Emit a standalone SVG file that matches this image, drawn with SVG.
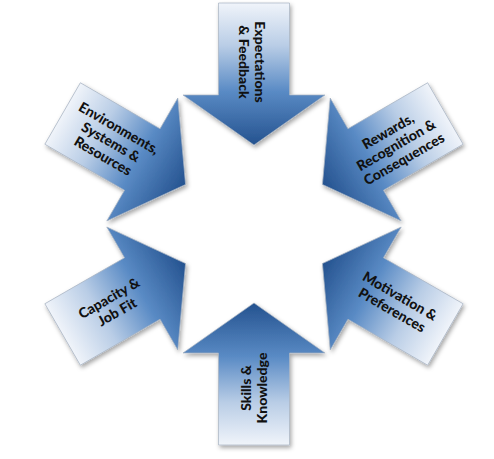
<svg xmlns="http://www.w3.org/2000/svg" xmlns:xlink="http://www.w3.org/1999/xlink" width="494" height="459" viewBox="0 0 494 459">
  <defs>
    <linearGradient id="g" gradientUnits="userSpaceOnUse" x1="0" y1="-221" x2="0" y2="-79">
      <stop offset="0" stop-color="#f0f4fa"/>
      <stop offset="0.3" stop-color="#b9cde6"/>
      <stop offset="0.62" stop-color="#5a8bc5"/>
      <stop offset="1" stop-color="#24528f"/>
    </linearGradient>
    <filter id="sh" x="-20%" y="-20%" width="140%" height="140%">
      <feDropShadow dx="1.5" dy="2.5" stdDeviation="2" flood-color="#000" flood-opacity="0.35"/>
    </filter>
    <polygon id="arrow" points="-35.5,-221 35.5,-221 35.5,-129 71,-129 0,-79 -71,-129 -35.5,-129" fill="url(#g)" stroke="#a7b3c2" stroke-width="0.7"/>
  </defs>
  <style>
    text { font-family: Lato, "Liberation Sans", sans-serif; font-weight: 900; font-size: 14px; fill: #111; text-anchor: middle; }
  </style>

  <g id="expectations">
    <g filter="url(#sh)"><use xlink:href="#arrow" transform="translate(254,224) rotate(0)"/></g>
    <text transform="translate(252,62) rotate(90)"><tspan x="0" y="-3">Expectations</tspan><tspan x="0" y="13">&amp; Feedback</tspan></text>
  </g>

  <g id="rewards">
    <g filter="url(#sh)"><use xlink:href="#arrow" transform="translate(254,224) rotate(60)"/></g>
    <text transform="translate(396,145) rotate(-30)"><tspan x="0" y="-11">Rewards,</tspan><tspan x="0" y="5">Recognition &amp;</tspan><tspan x="0" y="21">Consequences</tspan></text>
  </g>

  <g id="motivation">
    <g filter="url(#sh)"><use xlink:href="#arrow" transform="translate(254,224) rotate(120)"/></g>
    <text transform="translate(396,303) rotate(30)"><tspan x="0" y="-3">Motivation &amp;</tspan><tspan x="0" y="13">Preferences</tspan></text>
  </g>

  <g id="skills">
    <g filter="url(#sh)"><use xlink:href="#arrow" transform="translate(254,224) rotate(180)"/></g>
    <text transform="translate(254,388) rotate(-90)"><tspan x="0" y="-3">Skills &amp;</tspan><tspan x="0" y="13">Knowledge</tspan></text>
  </g>

  <g id="capacity">
    <g filter="url(#sh)"><use xlink:href="#arrow" transform="translate(254,224) rotate(240)"/></g>
    <text transform="translate(113,305) rotate(-30)"><tspan x="0" y="-3">Capacity &amp;</tspan><tspan x="0" y="13">Job Fit</tspan></text>
  </g>

  <g id="environments">
    <g filter="url(#sh)"><use xlink:href="#arrow" transform="translate(254,224) rotate(300)"/></g>
    <text transform="translate(111,142) rotate(30)"><tspan x="0" y="-11">Environments,</tspan><tspan x="0" y="5">Systems &amp;</tspan><tspan x="0" y="21">Resources</tspan></text>
  </g>

  <g id="connectors"></g>
</svg>
